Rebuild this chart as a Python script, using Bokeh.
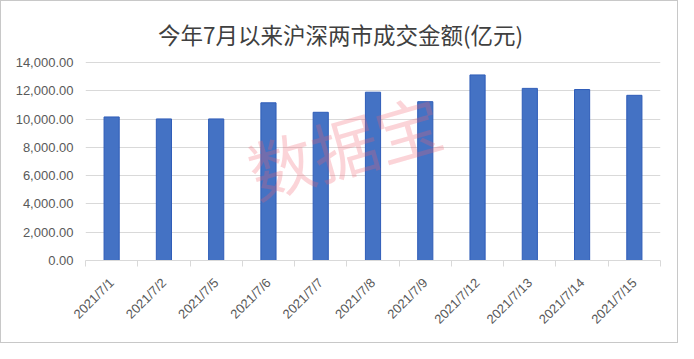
from bokeh.plotting import figure
from bokeh.models import FixedTicker, NumeralTickFormatter, Label, ColumnDataSource, Range1d
from bokeh.embed import file_html
from bokeh.resources import INLINE
import math

dates = ["2021/7/1", "2021/7/2", "2021/7/5", "2021/7/6", "2021/7/7", "2021/7/8",
         "2021/7/9", "2021/7/12", "2021/7/13", "2021/7/14", "2021/7/15"]
values = [10150, 10010, 10010, 11150, 10480, 11900, 11230, 13120, 12170, 12090, 11680]
y_ticks = [0, 2000, 4000, 6000, 8000, 10000, 12000, 14000]
title_text = "今年7月以来沪深两市成交金额(亿元)"
watermark = "数据宝"

xs = [i + 0.5 for i in range(len(dates))]
src = ColumnDataSource(dict(x=xs, top=values, label=dates))

# frame extends above the 14000 gridline to hold the title (no outline drawn)
p = figure(width=678, height=343, output_backend="svg", toolbar_location=None, title=None,
           x_range=Range1d(0, len(dates)), y_range=Range1d(0, 17748),
           min_border_left=84, min_border_right=19, min_border_top=8, min_border_bottom=84)

title = Label(x=4.88, y=16016, text=title_text, text_align="center", text_baseline="middle",
              text_font="Noto Sans CJK SC", text_font_size="22.5px", text_color="#404040")
p.add_layout(title)

p.vbar(x="x", top="top", width=0.29, bottom=0, source=src,
       fill_color="#4472C4", line_color="#2F5DB8", line_width=1)

# x axis
p.xaxis.ticker = FixedTicker(ticks=xs, minor_ticks=list(range(len(dates) + 1)))
p.xaxis.major_label_overrides = {x: d for x, d in zip(xs, dates)}
p.xaxis.major_label_orientation = math.pi / 4
p.xaxis.major_tick_line_color = None
p.xaxis.minor_tick_line_color = "#d9d9d9"
p.xaxis.minor_tick_out = 6
p.xaxis.minor_tick_in = 0
p.xaxis.axis_line_color = "#d9d9d9"
p.xaxis.major_label_text_font = "Liberation Sans"
p.xaxis.major_label_text_font_size = "13px"
p.xaxis.major_label_text_color = "#595959"
p.xaxis.major_label_standoff = 14

# y axis
p.yaxis.ticker = FixedTicker(ticks=y_ticks)
p.yaxis.formatter = NumeralTickFormatter(format="0,0.00")
p.yaxis.axis_line_color = None
p.yaxis.major_tick_line_color = None
p.yaxis.minor_tick_line_color = None
p.yaxis.major_label_text_font = "Liberation Sans"
p.yaxis.major_label_text_font_size = "13px"
p.yaxis.major_label_text_color = "#595959"
p.yaxis.major_label_standoff = 6

p.xgrid.grid_line_color = None
p.ygrid.grid_line_color = "#d9d9d9"
p.ygrid.ticker = FixedTicker(ticks=y_ticks)
p.outline_line_color = None

wm = Label(x=4.95, y=8200, text=watermark, angle=0.28, text_align="center",
           text_baseline="middle", text_font="Noto Sans CJK SC", text_font_size="66px",
           text_color="#f06070", text_alpha=0.27)
p.add_layout(wm)

p.styles = {"border": "1px solid #c8c8c8", "box-sizing": "border-box"}

open("out.html", "w").write(file_html(p, INLINE))
